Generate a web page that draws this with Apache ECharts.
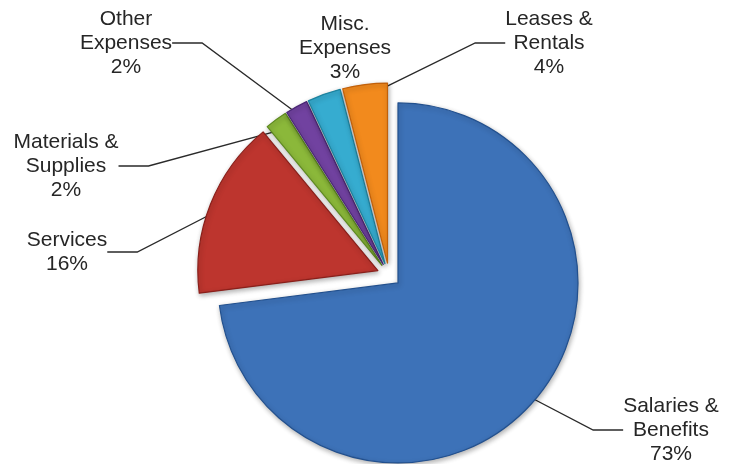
<!DOCTYPE html>
<html>
<head>
<meta charset="utf-8">
<script src="https://cdn.jsdelivr.net/npm/echarts@6/dist/echarts.min.js"></script>
<style>
  html, body { margin: 0; padding: 0; background: #fff; }
  #main { width: 736px; height: 464px; }
</style>
</head>
<body>
<div id="main"></div>
<script>
// data
var categories = ['Salaries &\nBenefits', 'Services', 'Materials &\nSupplies', 'Other\nExpenses', 'Misc.\nExpenses', 'Leases &\nRentals'];
var percents = [73, 16, 2, 2, 3, 4];

var baseColors = ['#3d72b8', '#bd352e', '#8bb83a', '#7142a0', '#36acd0', '#f28a1d'];
var edgeColors = ['#22508e', '#8a1f1a', '#5e8a20', '#4b2776', '#1d839f', '#c1600a'];
// label block centres, px
var labelSpots = [[671, 430], [67, 252], [66, 166], [126, 43], [345, 48], [549, 43]];

var chart = echarts.init(document.getElementById('main'));

var slices = [];
var labelItems = [];
for (var i = 0; i < categories.length; i++) {
	slices.push({
		name : categories[i],
		value : percents[i],
		selected : true,
		itemStyle : {
			color : baseColors[i],
			borderColor : edgeColors[i],
			borderWidth : 1.2
		}
	});
	labelItems.push({
		name : categories[i],
		value : percents[i],
		labelLine : { show : i !== 4 }
	});
}

var pieCenter = [ 389, 275 ];

var option = {
	backgroundColor : '#fff',
	animation : false,
	series : [ {
		// the exploded slices
		type : 'pie',
		center : pieCenter,
		radius : 180,
		startAngle : 90,
		clockwise : true,
		selectedMode : 'multiple',
		selectedOffset : 12,
		silent : true,
		emphasis : { disabled : true },
		itemStyle : {
			shadowBlur : 5,
			shadowColor : 'rgba(0,0,0,0.3)',
			shadowOffsetX : 1,
			shadowOffsetY : 2
		},
		label : { show : false },
		labelLine : { show : false },
		data : slices
	}, {
		// invisible copy that carries the labels and leader lines
		type : 'pie',
		center : pieCenter,
		radius : 180,
		startAngle : 90,
		clockwise : true,
		silent : true,
		avoidLabelOverlap : false,
		emphasis : { disabled : true },
		itemStyle : { color : 'rgba(0,0,0,0)' },
		label : {
			show : true,
			fontFamily : 'Liberation Sans, Arial, sans-serif',
			fontSize : 21,
			lineHeight : 24,
			color : '#262626',
			formatter : function(p) {
				return p.name + '\n' + p.value + '%';
			}
		},
		labelLine : {
			show : true,
			lineStyle : { color : '#2a2a2a', width : 1.3 }
		},
		labelLayout : function(params) {
			var s = labelSpots[params.dataIndex];
			return {
				x : s[0],
				y : s[1],
				align : 'center',
				verticalAlign : 'middle'
			};
		},
		data : labelItems
	} ]
};

chart.setOption(option);
</script>
</body>
</html>
